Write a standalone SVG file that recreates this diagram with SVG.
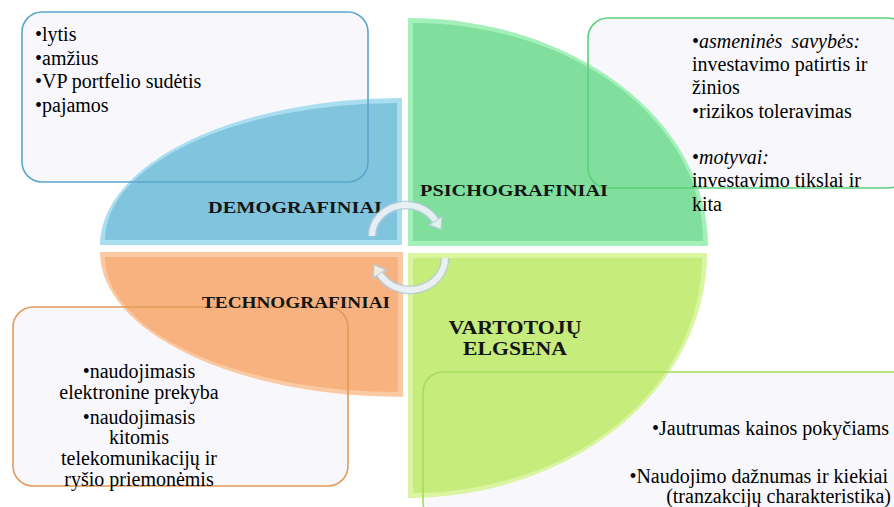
<svg xmlns="http://www.w3.org/2000/svg" width="894" height="507" viewBox="0 0 894 507">
  <style>
    .it { font-style: italic; }
    .lbl { font-family: "Liberation Serif", "Times New Roman", serif; font-weight: bold; font-size: 16.3px; fill: #141414; }
    .lbl2 { font-family: "Liberation Serif", "Times New Roman", serif; font-weight: bold; font-size: 18px; fill: #141414; }
    .boxfill { fill: #f8f8fc; stroke: none; }
    .box { fill: none; stroke-width: 1.6; }
    .arc-out { fill: none; stroke: #b4ccd8; stroke-width: 9; opacity: 0.8; }
    .arc-in { fill: none; stroke: #f0f6f9; stroke-width: 6; opacity: 0.85; }
    .head { fill: #f0f6f9; stroke: #b4ccd8; stroke-width: 1.4; opacity: 0.85; }
  </style>

  <rect width="894" height="507" fill="#ffffff"/>

  <!-- Demografiniai (top-left) -->
  <g id="demografiniai">
    <rect class="boxfill" x="22" y="12" width="346" height="170" rx="20"/>
    <path d="M402,245 L100,245 A302,147 0 0 1 402,98 Z" fill="#a9def0"/>
    <path d="M397,240 L105,240 A292,137 0 0 1 397,103 Z" fill="#80c4de"/>
    <rect class="box" x="22" y="12" width="346" height="170" rx="20" stroke="#5aa6c8"/>
    <text class="lbl" x="208" y="213" textLength="174" lengthAdjust="spacingAndGlyphs">DEMOGRAFINIAI</text>
    <text font-family="Liberation Serif" font-size="20" x="35" y="41">•lytis</text>
    <text font-family="Liberation Serif" font-size="20" x="35" y="65">•amžius</text>
    <text font-family="Liberation Serif" font-size="20" x="35" y="88">•VP portfelio sudėtis</text>
    <text font-family="Liberation Serif" font-size="20" x="35" y="112">•pajamos</text>
  </g>

  <!-- Psichografiniai (top-right) -->
  <g id="psichografiniai">
    <rect class="boxfill" x="588" y="18" width="320" height="170" rx="20"/>
    <path d="M408,246 L408,18 A300,228 0 0 1 708,246 Z" fill="#a4f0ba"/>
    <path d="M413,241 L413,23 A290,218 0 0 1 703,241 Z" fill="#80df9c"/>
    <rect class="box" x="588" y="18" width="320" height="170" rx="20" stroke="#5ccf7a"/>
    <text class="lbl" x="420" y="196" textLength="188" lengthAdjust="spacingAndGlyphs">PSICHOGRAFINIAI</text>
    <text font-family="Liberation Serif" font-size="20" x="692" y="48">•<tspan class="it">asmeninės</tspan><tspan class="it" dx="9">savybės:</tspan></text>
    <text font-family="Liberation Serif" font-size="20" x="692" y="71">investavimo patirtis ir</text>
    <text font-family="Liberation Serif" font-size="20" x="692" y="94">žinios</text>
    <text font-family="Liberation Serif" font-size="20" x="692" y="118">•rizikos toleravimas</text>
    <text font-family="Liberation Serif" font-size="20" x="692" y="164">•<tspan class="it">motyvai:</tspan></text>
    <text font-family="Liberation Serif" font-size="20" x="692" y="187">investavimo tikslai ir</text>
    <text font-family="Liberation Serif" font-size="20" x="692" y="211">kita</text>
  </g>

  <!-- Technografiniai (bottom-left) -->
  <g id="technografiniai">
    <rect class="boxfill" x="13" y="307" width="335" height="179" rx="20"/>
    <path d="M403,252 L403,397 A303,145 0 0 1 100,252 Z" fill="#fbcaa2"/>
    <path d="M398,257 L398,392 A293,135 0 0 1 105,257 Z" fill="#f7b27f"/>
    <rect class="box" x="13" y="307" width="335" height="179" rx="20" stroke="#e4995a"/>
    <text class="lbl" x="202" y="308" textLength="188" lengthAdjust="spacingAndGlyphs">TECHNOGRAFINIAI</text>
    <text font-family="Liberation Serif" font-size="20" text-anchor="middle" x="139" y="378">•naudojimasis</text>
    <text font-family="Liberation Serif" font-size="20" text-anchor="middle" x="139" y="399">elektronine prekyba</text>
    <text font-family="Liberation Serif" font-size="20" text-anchor="middle" x="139" y="424">•naudojimasis</text>
    <text font-family="Liberation Serif" font-size="20" text-anchor="middle" x="139" y="444">kitomis</text>
    <text font-family="Liberation Serif" font-size="20" text-anchor="middle" x="139" y="465">telekomunikacijų ir</text>
    <text font-family="Liberation Serif" font-size="20" text-anchor="middle" x="139" y="486">ryšio priemonėmis</text>
  </g>

  <!-- Vartotojų elgsena (bottom-right) -->
  <g id="vartotoju-elgsena">
    <rect class="boxfill" x="423" y="372" width="490" height="150" rx="20"/>
    <path d="M408,253 L707,253 A299,245 0 0 1 408,498 Z" fill="#d9f5a2"/>
    <path d="M413,258 L702,258 A289,235 0 0 1 413,493 Z" fill="#c6ec7b"/>
    <rect class="box" x="423" y="372" width="490" height="150" rx="20" stroke="#a6dc5c"/>
    <text class="lbl2" text-anchor="middle" x="515" y="334" textLength="133" lengthAdjust="spacingAndGlyphs">VARTOTOJŲ</text>
    <text class="lbl2" text-anchor="middle" x="515" y="355" textLength="104" lengthAdjust="spacingAndGlyphs">ELGSENA</text>
    <text font-family="Liberation Serif" font-size="20" text-anchor="end" x="889" y="435">•Jautrumas kainos pokyčiams</text>
    <text font-family="Liberation Serif" font-size="20" text-anchor="end" x="888" y="483">•Naudojimo dažnumas ir kiekiai</text>
    <text font-family="Liberation Serif" font-size="20" text-anchor="end" x="891" y="503">(tranzakcijų charakteristika)</text>
  </g>

  <!-- Circular arrows in the centre -->
  <g id="connectors">
    <path class="arc-out" d="M372,236 A34,31 0 0 1 435.4,220.5"/>
    <polygon class="head" points="428.7,224.8 442.1,216.2 441.3,229.7"/>
    <path class="arc-in" d="M372,236 A34,31 0 0 1 435.4,220.5"/>

    <path class="arc-out" d="M445,258 A35,32 0 0 1 379.7,274"/>
    <polygon class="head" points="386.5,269.8 372.9,278.2 373.9,264.6"/>
    <path class="arc-in" d="M445,258 A35,32 0 0 1 379.7,274"/>
  </g>
</svg>
